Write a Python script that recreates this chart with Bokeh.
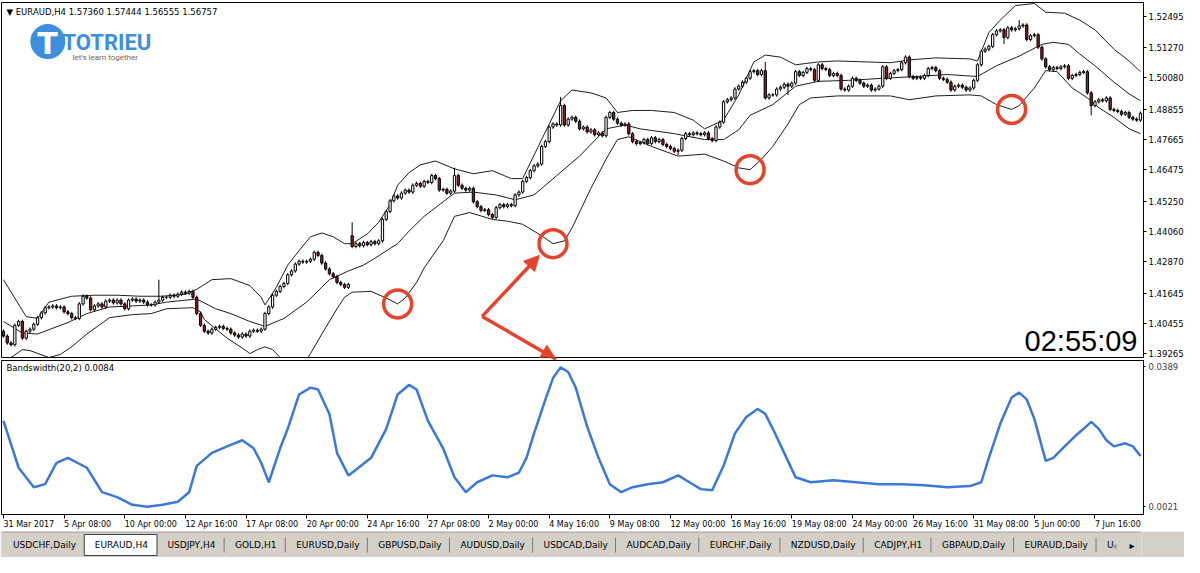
from bokeh.plotting import figure
from bokeh.models import (Range1d, FixedTicker, NumeralTickFormatter, Label,
                          Arrow, NormalHead, ColumnDataSource)
from bokeh.layouts import column
from bokeh.embed import file_html
from bokeh.resources import INLINE
from bokeh.core.properties import value

# ------------------------------------------------------------------ data
title_text = "\u25BC EURAUD,H4  1.57360 1.57444 1.56555 1.56757"
indicator_text = "Bandswidth(20,2) 0.0084"
clock_text = "02:55:09"

time_labels = ["31 Mar 2017", "5 Apr 08:00", "10 Apr 00:00", "12 Apr 16:00",
               "17 Apr 08:00", "20 Apr 00:00", "24 Apr 16:00", "27 Apr 08:00",
               "2 May 00:00", "4 May 16:00", "9 May 08:00", "12 May 00:00",
               "16 May 16:00", "19 May 08:00", "24 May 00:00", "26 May 16:00",
               "31 May 08:00", "5 Jun 00:00", "7 Jun 16:00"]
bars_per_label = 16

price_ticks = [1.52495, 1.51270, 1.50080, 1.48855, 1.47665, 1.46475,
               1.45250, 1.44060, 1.42870, 1.41645, 1.40455, 1.39265]
bw_ticks = [0.0389, 0.0021]

closes = [
    1.3996, 1.3969, 1.3962, 1.4038, 1.4053, 1.3988, 1.4015, 1.4023, 1.4042, 1.4068,
    1.4087, 1.4107, 1.4110, 1.4114, 1.4107, 1.4110, 1.4091, 1.4084, 1.4068, 1.4065,
    1.4122, 1.4152, 1.4145, 1.4099, 1.4114, 1.4122, 1.4110, 1.4133, 1.4137, 1.4126,
    1.4137, 1.4122, 1.4103, 1.4137, 1.4141, 1.4133, 1.4137, 1.4129, 1.4118, 1.4118,
    1.4129, 1.4137, 1.4148, 1.4148, 1.4156, 1.4152, 1.4160, 1.4168, 1.4164, 1.4171,
    1.4148, 1.4084, 1.4038, 1.4015, 1.4008, 1.4023, 1.4030, 1.4034, 1.4026, 1.4023,
    1.4008, 1.4000, 1.3992, 1.4004, 1.3996, 1.4015, 1.4019, 1.4015, 1.4023, 1.4084,
    1.4110, 1.4156, 1.4171, 1.4190, 1.4202, 1.4236, 1.4251, 1.4278, 1.4289, 1.4286,
    1.4289, 1.4297, 1.4324, 1.4312, 1.4282, 1.4259, 1.4240, 1.4229, 1.4206, 1.4198,
    1.4187, 1.4198, 1.4347, 1.4358, 1.4350, 1.4362, 1.4354, 1.4366, 1.4358, 1.4369,
    1.4453, 1.4484, 1.4526, 1.4545, 1.4537, 1.4556, 1.4568, 1.4560, 1.4587, 1.4594,
    1.4583, 1.4602, 1.4598, 1.4625, 1.4613, 1.4568, 1.4571, 1.4556, 1.4564, 1.4625,
    1.4587, 1.4575, 1.4568, 1.4575, 1.4522, 1.4503, 1.4488, 1.4491, 1.4472, 1.4461,
    1.4499, 1.4511, 1.4503, 1.4511, 1.4507, 1.4549, 1.4560, 1.4602, 1.4617, 1.4644,
    1.4663, 1.4670, 1.4739, 1.4758, 1.4815, 1.4827, 1.4823, 1.4899, 1.4823, 1.4846,
    1.4853, 1.4838, 1.4808, 1.4815, 1.4796, 1.4804, 1.4785, 1.4792, 1.4781, 1.4853,
    1.4872, 1.4846, 1.4830, 1.4823, 1.4827, 1.4789, 1.4758, 1.4750, 1.4754, 1.4766,
    1.4750, 1.4773, 1.4758, 1.4766, 1.4747, 1.4739, 1.4731, 1.4720, 1.4724, 1.4770,
    1.4789, 1.4785, 1.4792, 1.4789, 1.4785, 1.4792, 1.4770, 1.4762, 1.4815, 1.4834,
    1.4914, 1.4922, 1.4929, 1.4964, 1.4975, 1.4991, 1.5006, 1.5032, 1.5036, 1.5021,
    1.5036, 1.4929, 1.4941, 1.4941, 1.4964, 1.4971, 1.4983, 1.4975, 1.4987, 1.5032,
    1.5017, 1.5029, 1.5044, 1.5040, 1.4998, 1.5059, 1.5044, 1.5040, 1.5017, 1.5025,
    1.5017, 1.4964, 1.4960, 1.4975, 1.5006, 1.4998, 1.4987, 1.4975, 1.4979, 1.4960,
    1.4964, 1.4975, 1.5051, 1.5006, 1.5025, 1.5036, 1.5040, 1.5067, 1.5089, 1.5013,
    1.5006, 1.5010, 1.5006, 1.5017, 1.5044, 1.5048, 1.5036, 1.5006, 1.5002, 1.4991,
    1.4960, 1.4975, 1.4979, 1.4971, 1.4960, 1.4968, 1.4998, 1.5059, 1.5112, 1.5120,
    1.5131, 1.5177, 1.5192, 1.5196, 1.5166, 1.5204, 1.5196, 1.5200, 1.5211, 1.5215,
    1.5158, 1.5173, 1.5177, 1.5128, 1.5082, 1.5051, 1.5040, 1.5048, 1.5044, 1.5051,
    1.5055, 1.5006, 1.5017, 1.5021, 1.5029, 1.5032, 1.4949, 1.4899, 1.4914, 1.4922,
    1.4918, 1.4929, 1.4884, 1.4880, 1.4876, 1.4865, 1.4872, 1.4853, 1.4846, 1.4842,
    1.4869]
first_open = 1.4015
gap_opens = {92: 1.4389}
wick_highs = {41: 1.4217, 92: 1.4442, 119: 1.4656, 147: 1.4933, 201: 1.5070, 268: 1.5234}
wick_lows = {178: 1.4705, 207: 1.4941, 264: 1.5140, 287: 1.4861}

ub_idx = [0, 6, 9, 12, 18, 24, 30, 36, 42, 48, 51, 55, 60, 65, 68, 69, 72, 75, 78, 81,
          84, 87, 90, 92, 96, 99, 102, 104, 107, 110, 114, 119, 124, 129, 134, 137, 142, 147, 150, 155,
          159, 162, 166, 171, 177, 182, 185, 190, 194, 198, 201, 205, 209, 215, 220, 228, 234, 239, 246, 255,
          257, 260, 263, 267, 272, 275, 280, 284, 288, 293, 297, 300]
ub_val = [1.4217, 1.4072, 1.4065, 1.4129, 1.4152, 1.4156, 1.4156, 1.4152, 1.4152, 1.4160,
          1.4179, 1.4217, 1.4221, 1.4194, 1.4148, 1.4118, 1.4187, 1.4274, 1.4331, 1.4385,
          1.4400, 1.4385, 1.4358, 1.4358, 1.4396, 1.4442, 1.4511, 1.4587, 1.4636, 1.4667,
          1.4682, 1.4651, 1.4632, 1.4644, 1.4613, 1.4613, 1.4766, 1.4918, 1.4960, 1.4949,
          1.4929, 1.4872, 1.4880, 1.4880, 1.4872, 1.4842, 1.4808, 1.4842, 1.4941, 1.5070,
          1.5097, 1.5089, 1.5059, 1.5070, 1.5074, 1.5070, 1.5067, 1.5078, 1.5086, 1.5082,
          1.5074, 1.5185, 1.5234, 1.5291, 1.5299, 1.5265, 1.5261, 1.5234, 1.5196, 1.5120,
          1.5074, 1.5032]

mb_idx = [0, 5, 9, 17, 22, 28, 34, 39, 43, 51, 56, 60, 65, 69, 74, 80, 86, 91, 95, 98,
          104, 107, 111, 116, 119, 124, 130, 135, 140, 146, 152, 159, 164, 168, 177, 185, 190, 194, 197, 203,
          209, 215, 223, 232, 241, 249, 257, 262, 268, 274, 277, 281, 284, 288, 293, 297, 300]
mb_val = [1.4053, 1.4008, 1.4004, 1.4049, 1.4084, 1.4110, 1.4114, 1.4118, 1.4129, 1.4141,
          1.4103, 1.4084, 1.4053, 1.4034, 1.4065, 1.4129, 1.4217, 1.4251, 1.4274, 1.4301,
          1.4358, 1.4407, 1.4465, 1.4522, 1.4556, 1.4560, 1.4549, 1.4530, 1.4549, 1.4625,
          1.4701, 1.4808, 1.4823, 1.4808, 1.4789, 1.4766, 1.4766, 1.4804, 1.4861, 1.4903,
          1.4975, 1.4994, 1.4998, 1.5006, 1.5013, 1.5021, 1.5013, 1.5055, 1.5093, 1.5139,
          1.5147, 1.5139, 1.5101, 1.5055, 1.4991, 1.4945, 1.4918]

lb_idx = [0, 2, 5, 7, 12, 15, 18, 22, 28, 34, 39, 43, 50, 52, 53, 59, 64, 65, 67, 69,
          71, 73, 76, 79, 81, 84, 88, 90, 92, 97, 101, 104, 106, 109, 111, 116, 119, 123, 129, 133,
          137, 142, 145, 148, 150, 155, 159, 162, 165, 171, 178, 185, 190, 194, 197, 200, 203, 207, 210, 213,
          220, 228, 234, 239, 246, 255, 258, 262, 266, 268, 272, 275, 278, 282, 286, 289, 293, 297, 300]
lb_val = [1.3889, 1.3912, 1.3943, 1.3939, 1.3912, 1.3924, 1.3954, 1.4004, 1.4068, 1.4080,
          1.4084, 1.4103, 1.4107, 1.4091, 1.4061, 1.3988, 1.3939, 1.3927, 1.3943, 1.3954,
          1.3943, 1.3912, 1.3870, 1.3882, 1.3927, 1.4004, 1.4103, 1.4148, 1.4168, 1.4171,
          1.4145, 1.4122, 1.4145, 1.4206, 1.4263, 1.4369, 1.4465, 1.4480, 1.4453, 1.4446,
          1.4434, 1.4389, 1.4358, 1.4369, 1.4419, 1.4575, 1.4689, 1.4766, 1.4777, 1.4739,
          1.4701, 1.4709, 1.4682, 1.4655, 1.4648, 1.4689, 1.4739, 1.4827, 1.4903, 1.4929,
          1.4937, 1.4937, 1.4937, 1.4922, 1.4937, 1.4941, 1.4937, 1.4903, 1.4884, 1.4899,
          1.4968, 1.5036, 1.5032, 1.4968, 1.4929, 1.4891, 1.4853, 1.4808, 1.4789]

bw_idx = [0, 4, 8, 11, 14, 17, 22, 26, 30, 34, 38, 42, 46, 49, 51, 55, 59, 63, 66, 68,
          70, 73, 75, 78, 81, 83, 86, 88, 91, 93, 97, 101, 104, 107, 109, 112, 116, 119, 122, 125,
          129, 133, 136, 138, 140, 143, 145, 147, 149, 151, 154, 157, 160, 163, 166, 170, 174, 178, 181, 184,
          187, 190, 193, 196, 199, 201, 203, 206, 209, 213, 219, 225, 231, 237, 243, 249, 255, 258, 260, 263,
          266, 268, 270, 272, 275, 277, 280, 283, 285, 287, 289, 291, 293, 296, 298, 300]
bw_val = [0.0246, 0.0123, 0.0072, 0.0080, 0.0136, 0.0149, 0.0123, 0.0059, 0.0046, 0.0026,
          0.0021, 0.0026, 0.0034, 0.0059, 0.0128, 0.0162, 0.0179, 0.0195, 0.0174, 0.0136,
          0.0085, 0.0174, 0.0225, 0.0315, 0.0333, 0.0328, 0.0264, 0.0162, 0.0103, 0.0118,
          0.0149, 0.0225, 0.0315, 0.0340, 0.0328, 0.0246, 0.0174, 0.0098, 0.0059, 0.0085,
          0.0103, 0.0098, 0.0110, 0.0149, 0.0213, 0.0302, 0.0358, 0.0386, 0.0374, 0.0333,
          0.0231, 0.0149, 0.0080, 0.0059, 0.0072, 0.0080, 0.0085, 0.0103, 0.0085, 0.0067,
          0.0064, 0.0128, 0.0213, 0.0256, 0.0277, 0.0264, 0.0225, 0.0162, 0.0098, 0.0085,
          0.0090, 0.0085, 0.0080, 0.0080, 0.0077, 0.0072, 0.0075, 0.0085, 0.0149, 0.0238,
          0.0307, 0.0320, 0.0302, 0.0251, 0.0141, 0.0149, 0.0179, 0.0208, 0.0225, 0.0243,
          0.0225, 0.0195, 0.0179, 0.0187, 0.0179, 0.0154]

circle_idx = [104, 145, 197, 266]
circle_price = [1.4122, 1.4358, 1.4648, 1.4884]
arrow_tail = (126.3, 1.4073)
arrow_tip_idx = [141.4, 145.8]
arrow_tip_price = [1.4312, 1.3905]

tabs = ["USDCHF,Daily", "EURAUD,H4", "USDJPY,H4", "GOLD,H1", "EURUSD,Daily",
        "GBPUSD,Daily", "AUDUSD,Daily", "USDCAD,Daily", "AUDCAD,Daily",
        "EURCHF,Daily", "NZDUSD,Daily", "CADJPY,H1", "GBPAUD,Daily",
        "EURAUD,Daily", "U"]
active_tab = 1

# ------------------------------------------------------------------ styles
FONT = "DejaVu Sans"
RED = "#e4432d"
BLUE = "#3d8fdd"
BEAR = "#8a2020"
BAND = "#1e1e1e"
LINE_BW = "#3c78d6"
FW = 1142
X0, X1 = -0.52, 300.8

n = len(closes)
idx = list(range(n))
opens = [first_open] + closes[:-1]
for k, v in gap_opens.items():
    opens[k] = v
WICK = 0.0007
highs = [max(o, c) + WICK for o, c in zip(opens, closes)]
lows = [min(o, c) - WICK for o, c in zip(opens, closes)]
for k, v in wick_highs.items():
    highs[k] = v
for k, v in wick_lows.items():
    lows[k] = v
src = ColumnDataSource(dict(
    x=idx, h=highs, l=lows,
    top=[max(o, c) for o, c in zip(opens, closes)],
    bot=[min(o, c) for o, c in zip(opens, closes)],
    fill=["white" if c >= o else BEAR for o, c in zip(opens, closes)]))

XR = Range1d(X0, X1)

# ------------------------------------------------------------------ main price panel
p = figure(frame_width=FW, frame_height=355, x_range=XR, y_range=Range1d(1.3912, 1.5303),
           output_backend="svg", toolbar_location=None, x_axis_location=None,
           y_axis_location="right", min_border_left=1, min_border_right=0,
           min_border_top=2, min_border_bottom=3)
p.grid.visible = False
p.outline_line_color = "black"
p.outline_line_width = 1
p.background_fill_color = "white"
p.border_fill_color = "white"
ya = p.yaxis[0]
ya.ticker = FixedTicker(ticks=price_ticks)
ya.formatter = NumeralTickFormatter(format="0.00000")
ya.major_tick_out = 3
ya.major_tick_in = 0
ya.minor_tick_out = 0
ya.minor_tick_in = 0
ya.major_label_standoff = 2
ya.axis_line_color = "black"
ya.major_label_text_font = FONT
ya.major_label_text_font_size = "8.5px"
ya.major_label_text_color = "black"

p.line(ub_idx, ub_val, line_color=BAND, line_width=1)
p.line(mb_idx, mb_val, line_color=BAND, line_width=1)
p.line(lb_idx, lb_val, line_color=BAND, line_width=1)

p.segment(x0="x", y0="l", x1="x", y1="h", source=src, line_color="black", line_width=1)
p.vbar(x="x", width=0.6, top="top", bottom="bot", fill_color="fill",
       line_color="black", line_width=1, source=src)

p.scatter(x=circle_idx, y=circle_price, marker="circle", size=28, fill_color=None,
          line_color=RED, line_width=3.5)
for tx, ty in zip(arrow_tip_idx, arrow_tip_price):
    p.add_layout(Arrow(end=NormalHead(size=15, fill_color=RED, line_color=RED, line_width=1),
                       x_start=arrow_tail[0], y_start=arrow_tail[1], x_end=tx, y_end=ty,
                       line_color=RED, line_width=3.5))

p.add_layout(Label(x=5, y=346, x_units="screen", y_units="screen", text=title_text,
                   text_font=FONT, text_font_size="8.5px", text_baseline="middle",
                   text_color="black"))
# logo
p.scatter(x=[11.7], y=[1.5150], marker="circle", size=35, fill_color=BLUE, line_color=None)
p.add_layout(Label(x=46, y=314, x_units="screen", y_units="screen", text="T",
                   text_font="DejaVu Sans", text_font_style="bold", text_font_size="30px",
                   text_align="center", text_baseline="middle", text_color="white"))
p.add_layout(Label(x=61, y=315, x_units="screen", y_units="screen", text="TOTRIEU",
                   text_font="Roboto", text_font_style="bold", text_font_size="22px",
                   text_baseline="middle", text_color=BLUE))
p.add_layout(Label(x=71, y=300, x_units="screen", y_units="screen", text="let's learn together",
                   text_font="Roboto", text_font_size="8px", text_baseline="middle",
                   text_color="#7a6652"))
p.add_layout(Label(x=1136, y=17, x_units="screen", y_units="screen", text=clock_text,
                   text_font="Liberation Sans", text_font_size="29px", text_align="right",
                   text_baseline="middle", text_color="black"))

# ------------------------------------------------------------------ bandwidth panel
p2 = figure(frame_width=FW, frame_height=154, x_range=XR, y_range=Range1d(0.00005, 0.0404),
            output_backend="svg", toolbar_location=None, x_axis_location="below",
            y_axis_location="right", min_border_left=1, min_border_right=0,
            min_border_top=0, min_border_bottom=5)
p2.grid.visible = False
p2.outline_line_color = "black"
p2.outline_line_width = 1
p2.line(bw_idx, bw_val, line_color=LINE_BW, line_width=2.5)
p2.add_layout(Label(x=5, y=147, x_units="screen", y_units="screen", text=indicator_text,
                    text_font=FONT, text_font_size="8.5px", text_baseline="middle",
                    text_color="black"))
ya2 = p2.yaxis[0]
ya2.ticker = FixedTicker(ticks=bw_ticks)
ya2.formatter = NumeralTickFormatter(format="0.0000")
ya2.major_tick_out = 2
ya2.major_tick_in = 0
ya2.minor_tick_out = 0
ya2.minor_tick_in = 0
ya2.major_label_standoff = 3
ya2.axis_line_color = "black"
ya2.major_label_text_font = FONT
ya2.major_label_text_font_size = "8.5px"

tick_idx = [k * bars_per_label for k in range(len(time_labels))]
xa = p2.xaxis[0]
xa.ticker = FixedTicker(ticks=tick_idx)
xa.major_label_overrides = {t: "" for t in tick_idx}
xa.major_tick_out = 4
xa.major_tick_in = 0
xa.minor_tick_out = 0
xa.minor_tick_in = 0
xa.major_label_standoff = 0
xa.axis_line_color = "black"
xa.major_label_text_font_size = "1px"

# ------------------------------------------------------------------ time-label strip
# same bar scale as the panels, frame extended to the right so the last label fits
LW = 1183
pl = figure(frame_width=LW, frame_height=12,
            x_range=Range1d(X0, X0 + (X1 - X0) * LW / FW), y_range=Range1d(0, 12),
            output_backend="svg", toolbar_location=None, x_axis_location=None,
            y_axis_location=None, min_border_left=1, min_border_right=0,
            min_border_top=0, min_border_bottom=0)
pl.grid.visible = False
pl.outline_line_color = None
pl.text(x=tick_idx, y=[7] * len(tick_idx), text=time_labels, x_offset=0,
        text_font=value(FONT), text_font_size=value("8px"), text_align="left",
        text_baseline="middle", text_color="black")

# ------------------------------------------------------------------ tab bar
pt = figure(width=1184, height=26, x_range=Range1d(0, 1200), y_range=Range1d(0, 26),
            output_backend="svg", toolbar_location=None, x_axis_location=None,
            y_axis_location=None, min_border=0)
pt.grid.visible = False
pt.outline_line_color = None
pt.background_fill_color = "#d4d0c8"
pt.border_fill_color = "#d4d0c8"

em = {"A": .684, "B": .686, "C": .698, "D": .770, "E": .632, "F": .575, "G": .775,
      "H": .752, "J": .295, "L": .557, "N": .748, "O": .787, "P": .603, "R": .695,
      "S": .635, "U": .732, "Y": .611, "Z": .685, ",": .318, "a": .613, "i": .278,
      "l": .278, "y": .592}
TAB_FS = 9.0
GAP = 23
starts, ends = [], []
xcur = 12
for t in tabs:
    w = sum(em.get(ch, .636) for ch in t) * TAB_FS
    starts.append(xcur)
    ends.append(xcur + w)
    xcur += w + GAP

pt.segment(x0=[0], y0=[25.5], x1=[1200], y1=[25.5], line_color="#9a9a9a", line_width=1)
pt.quad(left=[starts[active_tab] - 11], right=[ends[active_tab] + 12], bottom=[2], top=[23],
        fill_color="white", line_color="#404040", line_width=1)
sep_x = [ends[i] + GAP / 2 for i in range(len(tabs) - 1)
         if i != active_tab and i + 1 != active_tab]
pt.segment(x0=sep_x, y0=[5] * len(sep_x), x1=sep_x, y1=[20] * len(sep_x),
           line_color="#7a7a7a", line_width=1)
pt.text(x=starts, y=[12.5] * len(tabs), text=tabs, text_font=value(FONT),
        text_font_size=value("9px"), text_baseline="middle", text_align="left",
        text_color="black")
pt.text(x=[1171, 1190], y=[12.5, 12.5], text=["\u25C2", "\u25B8"], text_font=value(FONT),
        text_font_size=value("10px"), text_baseline="middle", text_align="center",
        text_color=["#9a9a9a", "black"])

layout = column(p, p2, pl, pt, spacing=0)
open("out.html", "w").write(file_html(layout, INLINE))
